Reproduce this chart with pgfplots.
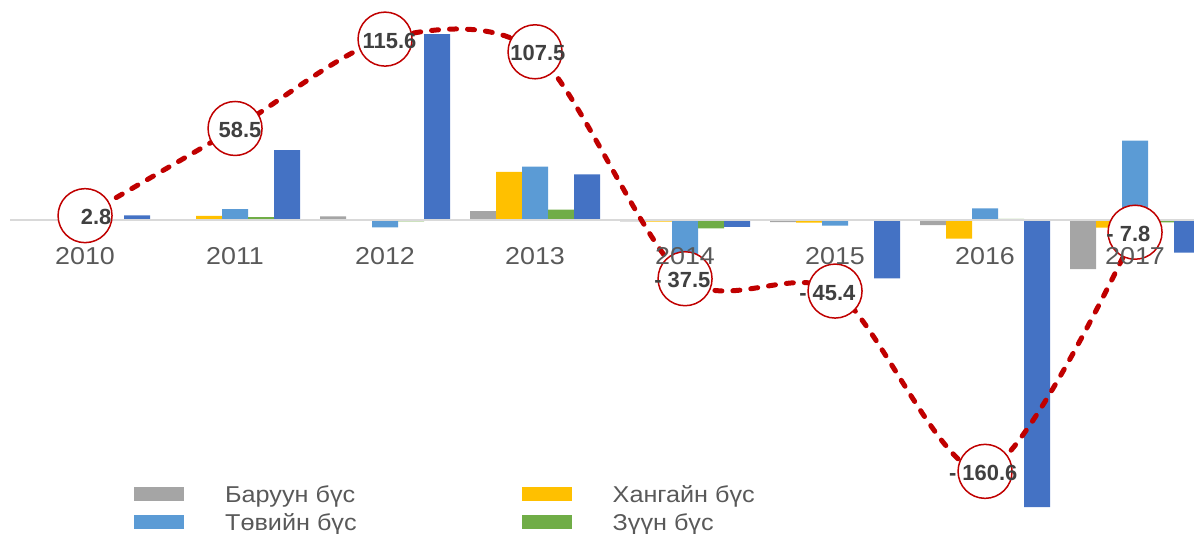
\documentclass[border=0pt]{standalone}
\usepackage{fontspec}
\setmainfont{Liberation Sans}
\newfontfamily\widefont[FakeStretch=1.1]{Liberation Sans}
\usepackage{pgfplots}
\pgfplotsset{compat=1.18}
\definecolor{cGray}{HTML}{A5A5A5}
\definecolor{cYellow}{HTML}{FFC000}
\definecolor{cLBlue}{HTML}{5B9BD5}
\definecolor{cGreen}{HTML}{70AD47}
\definecolor{cDBlue}{HTML}{4472C4}
\definecolor{cRed}{HTML}{C00000}
\definecolor{cTick}{HTML}{595959}
\definecolor{cLabel}{HTML}{404040}
\definecolor{cAxis}{HTML}{D9D9D9}
\pgfplotsset{lgimg/.style={legend image code/.code={\fill[#1] (0bp,-7bp) rectangle (50bp,7bp); \path (84bp,0bp);}}}
\begin{document}
\begin{tikzpicture}
\begin{axis}[
  width=1194bp, height=533bp, scale only axis,
  set layers=axis on top,
  xmin=-0.567, xmax=7.393, ymin=-200, ymax=140.6,
  axis x line=middle, axis y line=none,
  x axis line style={draw=none},
  xtick={0,1,2,3,4,5,6,7},
  xticklabels={2010,2011,2012,2013,2014,2015,2016,2017},
  ytick=\empty,
  major tick length=0pt,
  xticklabel style={font=\widefont\fontsize{24.5}{29}\selectfont, text=cTick, anchor=base, yshift=-44bp},
  legend columns=2,
  legend cell align=left,
  legend style={draw=none, fill=none, inner sep=0pt, at={(0.1122,0.0994)}, anchor=north west,
    font=\widefont\fontsize{23}{27}\selectfont, text=cTick,
    nodes={inner ysep=0pt, inner xsep=7bp, text height=22bp, text depth=6bp},
    /tikz/every even column/.append style={column sep=158bp}},
]
\addplot[ybar, bar width=26bp, bar shift=-52bp, fill=cGray, draw=none, lgimg=cGray]
  coordinates {(0,0.2) (1,0.5) (2,2.4) (3,5.7) (4,-0.8) (5,-1.3) (6,-3.2) (7,-31.3)};
\addlegendentry{Баруун бүс}
\addplot[ybar, bar width=26bp, bar shift=-26bp, fill=cYellow, draw=none, lgimg=cYellow]
  coordinates {(0,0) (1,2.7) (2,0) (3,30.7) (4,-1.0) (5,-1.6) (6,-11.9) (7,-4.9)};
\addlegendentry{Хангайн бүс}
\addplot[ybar, bar width=26bp, bar shift=0bp, fill=cLBlue, draw=none, lgimg=cLBlue]
  coordinates {(0,0) (1,7.0) (2,-4.7) (3,34.1) (4,-26.4) (5,-3.6) (6,7.5) (7,50.7)};
\addlegendentry{Төвийн бүс}
\addplot[ybar, bar width=26bp, bar shift=26bp, fill=cGreen, draw=none, lgimg=cGreen]
  coordinates {(0,0) (1,1.9) (2,-0.8) (3,6.6) (4,-5.3) (5,0) (6,0.8) (7,-1.5)};
\addlegendentry{Зүүн бүс}
\addplot[ybar, bar width=26bp, bar shift=52bp, fill=cDBlue, draw=none, forget plot]
  coordinates {(0,3.0) (1,44.7) (2,118.8) (3,29.2) (4,-4.3) (5,-37.3) (6,-183.4) (7,-20.9)};
\draw[color=cAxis, line width=1.8bp] (axis cs:-0.5,0) -- (axis cs:7.393,0);
\addplot[smooth, color=cRed, line width=5bp, dash pattern=on 7bp off 11bp, line cap=round,
  mark=*, mark size=27bp, mark options={solid, fill=white, draw=cRed, line width=1.5bp},
  forget plot,
  nodes near coords, point meta=explicit symbolic,
  every node near coord/.append style={anchor=east, inner sep=0pt, xshift=33bp, yshift=-1.5bp,
    font=\bfseries\fontsize{22}{26}\selectfont, text=cLabel}]
  coordinates {(0,2.8) [2.8\kern6bp] (1,58.5) [58.5\kern6bp] (2,115.6) [115.6\kern1bp]
               (3,107.5) [107.5\kern2bp] (4,-37.5) [- 37.5\kern7bp] (5,-45.4) [- 45.4\kern12bp]
               (6,-160.6) [- 160.6] (7,-7.8) [- 7.8\kern17bp]};
\end{axis}
\pgfresetboundingbox
\path (current axis.south west) rectangle (current axis.north east);
\end{tikzpicture}
\end{document}
